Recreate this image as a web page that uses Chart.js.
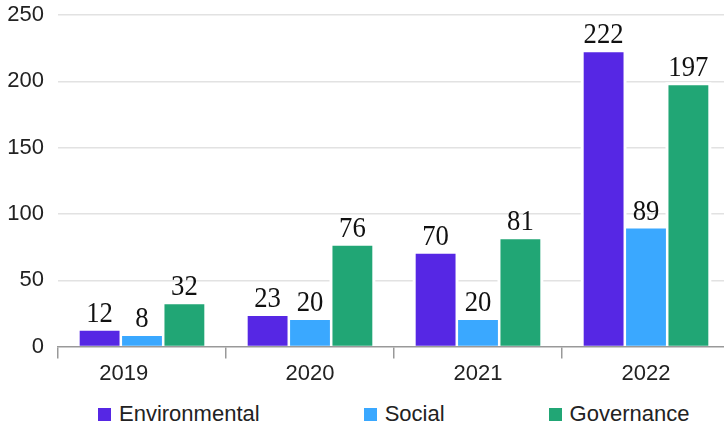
<!DOCTYPE html>
<html>
<head>
<meta charset="utf-8">
<script src="https://cdn.jsdelivr.net/npm/chart.js@4/dist/chart.umd.min.js"></script>
<style>
  html, body { margin: 0; padding: 0; background: #fff; }
  #wrap { position: relative; width: 724px; height: 428px; overflow: hidden; }
  #box { position: absolute; left: 0; top: 0; width: 730px; height: 392px; }
  #legend { position: absolute; left: 98px; top: 402px; height: 24px; display: flex; gap: 104px;
            font-family: "Liberation Sans", Arial, sans-serif; font-size: 22px; color: #222; }
  #legend .item { display: flex; align-items: center; }
  #legend .sw { width: 13px; height: 13px; margin-right: 8px; }
</style>
</head>
<body>
<div id="wrap">
  <div id="box"><canvas id="chart"></canvas></div>
  <div id="legend"></div>
</div>
<script>
const years = ['2019', '2020', '2021', '2022'];
const seriesNames = ['Environmental', 'Social', 'Governance'];
const environmental = [12, 23, 70, 222];
const social = [8, 20, 20, 89];
const governance = [32, 76, 81, 197];
const yTicks = [0, 50, 100, 150, 200, 250];

const colors = ['#5627E4', '#3AA8FF', '#21A675'];

// white gap round each bar, cuts the gridlines like in the original
const barHalo = {
    id: 'barHalo',
    beforeDatasetsDraw(chart) {
        const ctx = chart.ctx;
        ctx.save();
        ctx.fillStyle = '#fff';
        chart.data.datasets.forEach((ds, i) => {
            chart.getDatasetMeta(i).data.forEach(bar => {
                const w = bar.width;
                ctx.fillRect(bar.x - w / 2 - 3, bar.y - 3, w + 6, bar.base - bar.y + 3);
            });
        });
        ctx.restore();
    }
};

// value above each bar, narrow serif
const valueLabels = {
    id: 'valueLabels',
    afterDatasetsDraw(chart) {
        const ctx = chart.ctx;
        ctx.save();
        ctx.font = '30px "Liberation Serif", "Times New Roman", serif';
        ctx.fillStyle = '#111';
        ctx.textAlign = 'center';
        ctx.textBaseline = 'alphabetic';
        chart.data.datasets.forEach((ds, i) => {
            chart.getDatasetMeta(i).data.forEach((bar, j) => {
                ctx.save();
                ctx.translate(bar.x, bar.y - 9);
                ctx.scale(0.89, 1);
                ctx.fillText(String(ds.data[j]), 0, 0);
                ctx.restore();
            });
        });
        ctx.restore();
    }
};

const dataSets = [environmental, social, governance].map((vals, i) => ({
    label: seriesNames[i],
    data: vals,
    backgroundColor: colors[i],
    borderWidth: 0,
    categoryPercentage: 0.757,
    barPercentage: 0.94
}));

new Chart(document.getElementById('chart'), {
    type: 'bar',
    data: { labels: years, datasets: dataSets },
    options: {
        responsive: true,
        maintainAspectRatio: false,
        animation: false,
        layout: { padding: { left: 7, top: 15, right: 0, bottom: 3 } },
        plugins: {
            legend: { display: false },
            tooltip: { enabled: false }
        },
        scales: {
            x: {
                grid: {
                    offset: true,
                    drawOnChartArea: false,
                    tickLength: 12,
                    color: '#999',
                    lineWidth: 1.5
                },
                border: { display: true, color: '#999', width: 1.5 },
                ticks: {
                    color: '#222',
                    padding: 2,
                    // first year sits left of its group in the original
                    callback: (v, i) => i === 0 ? years[i] + '\u2007\u2007\u2007' : years[i],
                    font: { family: '"Liberation Sans", Arial, sans-serif', size: 22 }
                }
            },
            y: {
                min: yTicks[0],
                max: yTicks[yTicks.length - 1],
                afterBuildTicks: (scale) => { scale.ticks = yTicks.map(v => ({ value: v })); },
                afterFit: (scale) => {
                    scale.width = 51;
                    scale.paddingTop = 0;
                    scale.paddingBottom = 0;
                },
                grid: {
                    drawTicks: false,
                    color: (c) => c.tick && c.tick.value === 0 ? 'rgba(0,0,0,0)' : '#e2e2e2',
                    lineWidth: 1.5
                },
                border: { display: false },
                ticks: {
                    color: '#222',
                    padding: 14,
                    font: { family: '"Liberation Sans", Arial, sans-serif', size: 22 }
                }
            }
        }
    },
    plugins: [barHalo, valueLabels]
});

// legend under the chart
const legend = document.getElementById('legend');
seriesNames.forEach((name, i) => {
    const item = document.createElement('div');
    item.className = 'item';
    item.innerHTML = '<span class="sw" style="background:' + colors[i] + '"></span>' + name;
    legend.appendChild(item);
});
</script>
</body>
</html>
